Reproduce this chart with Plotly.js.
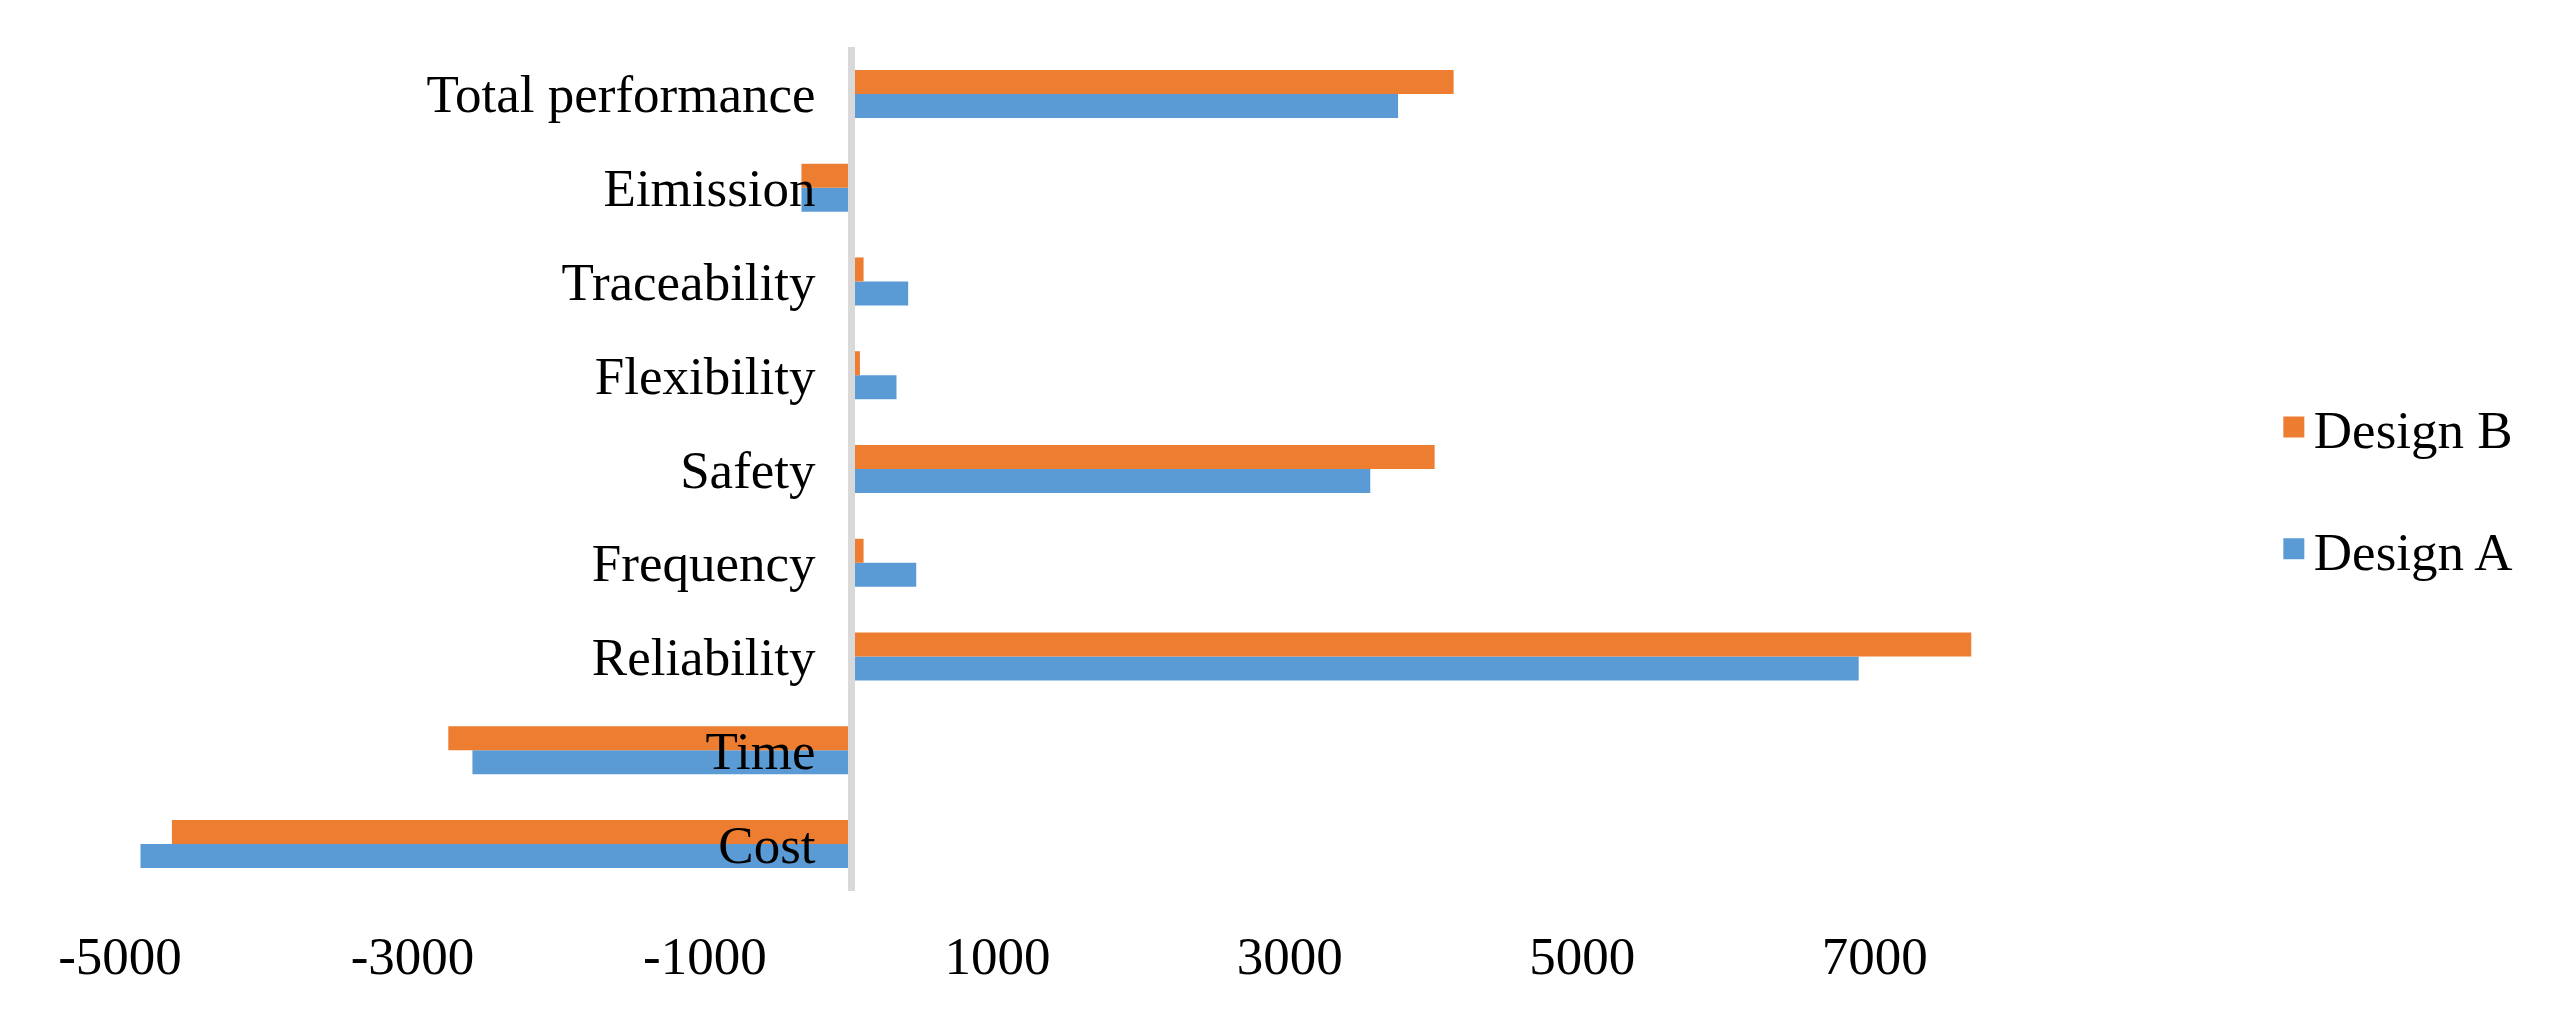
<!DOCTYPE html>
<html>
<head>
<meta charset="utf-8">
<script src="https://cdn.plot.ly/plotly-3.0.1.min.js"></script>
<style>html,body{margin:0;padding:0;background:#fff;}#chart{width:2570px;height:1035px;}</style>
</head>
<body>
<div id="chart"></div>
<script>
const categories = ['Cost', 'Time', 'Reliability', 'Frequency', 'Safety', 'Flexibility', 'Traceability', 'Eimission', 'Total performance'];
const designA = [-4860, -2590, 6890, 445, 3550, 310, 390, -340, 3740];
const designB = [-4645, -2755, 7660, 85, 3990, 60, 85, -340, 4120];
const seriesNames = ['Design A', 'Design B'];
const xTickVals = [-5000, -3000, -1000, 1000, 3000, 5000, 7000];
const xTickText = ['-5000', '-3000', '-1000', '1000', '3000', '5000', '7000'];
const xMin = -5000;
const xMax = 8000;

const colorA = '#5B9BD5';
const colorB = '#ED7D31';
const fontFamily = '"Liberation Serif", "Times New Roman", serif';
const fontSize = 53;

const traces = [
  {type: 'bar', orientation: 'h', name: seriesNames[0], y: categories, x: designA,
   marker: {color: colorA}, legendgroup: 'A', legendrank: 2, showlegend: false, hoverinfo: 'x+y'},
  {type: 'bar', orientation: 'h', name: seriesNames[1], y: categories, x: designB,
   marker: {color: colorB}, legendgroup: 'B', legendrank: 1, showlegend: false, hoverinfo: 'x+y'},
  {type: 'scatter', mode: 'markers', name: seriesNames[1], x: [null], y: [null], legendgroup: 'B', legendrank: 1,
   marker: {symbol: 'square', size: 16, color: colorB, line: {color: colorB, width: 5}}, hoverinfo: 'skip'},
  {type: 'scatter', mode: 'markers', name: seriesNames[0], x: [null], y: [null], legendgroup: 'A', legendrank: 2,
   marker: {symbol: 'square', size: 16, color: colorA, line: {color: colorA, width: 5}}, hoverinfo: 'skip'}
];

const zeroPos = (0 - xMin) / (xMax - xMin);

const layout = {
  width: 2570,
  height: 1035,
  margin: {l: 120, r: 549, t: 47, b: 144, pad: 0},
  paper_bgcolor: '#ffffff',
  plot_bgcolor: '#ffffff',
  font: {family: fontFamily, size: fontSize, color: '#000000'},
  barmode: 'group',
  bargap: 0.488,
  bargroupgap: 0,
  showlegend: true,
  legend: {
    x: 1.133, xanchor: 'left', y: 0.4775, yanchor: 'middle',
    traceorder: 'grouped', tracegroupgap: 50,
    font: {family: fontFamily, size: fontSize, color: '#000000'},
    bgcolor: 'rgba(0,0,0,0)', borderwidth: 0
  },
  xaxis: {
    range: [xMin, xMax],
    tickmode: 'array', tickvals: xTickVals, ticktext: xTickText,
    showgrid: false, zeroline: false, showline: false, ticks: '',
    ticklabelstandoff: 29,
    tickfont: {family: fontFamily, size: fontSize, color: '#000000'},
    fixedrange: true
  },
  yaxis: {
    type: 'category',
    categoryorder: 'array', categoryarray: categories,
    anchor: 'free', position: zeroPos, side: 'left',
    showgrid: false, zeroline: false,
    showline: true, linecolor: '#D9D9D9', linewidth: 7,
    ticks: '', ticklabelstandoff: 22,
    tickfont: {family: fontFamily, size: fontSize, color: '#000000'},
    fixedrange: true
  }
};

Plotly.newPlot('chart', traces, layout, {displayModeBar: false, staticPlot: true});
</script>
</body>
</html>
